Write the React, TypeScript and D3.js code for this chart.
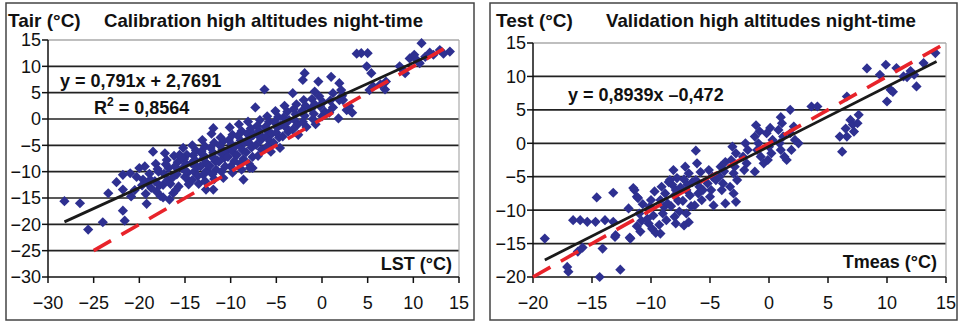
import * as d3 from "d3";

// tick values
const calibTicksX = [-30, -25, -20, -15, -10, -5, 0, 5, 10, 15];
const calibTicksY = [-30, -25, -20, -15, -10, -5, 0, 5, 10, 15];
const validTicksX = [-20, -15, -10, -5, 0, 5, 10, 15];
const validTicksY = [-20, -15, -10, -5, 0, 5, 10, 15];

// calibration: [LST, Tair]
const calibPoints: [number, number][] = [
  [-28.2, -15.6], [-26.5, -16], [-25.6, -21], [-24, -19.6], [-23.4, -14.1], [-22.5, -12], [-21.8, -10.6],
  [-21.8, -13.4], [-21.8, -17.4], [-21.6, -19.3], [-21, -10.3], [-20.9, -14.7], [-19.2, -16.1], [-18.5, -6.2],
  [-17.2, -6.5], [-18.1, -13.8], [-17.4, -12.5], [-20, -9.3], [-19.6, -11.5], [-16.7, -15.3], [-16.3, -14.1],
  [-14.5, -11.9], [-12.7, -13.4], [-11.9, -13.4], [-11.9, -1.75], [-8.6, -11.5], [-7.6, -9.3], [-7.3, 2.2],
  [-6.3, 5.6], [-3.2, 4.9], [-1.9, 8.7], [-2.1, 7.4], [-0.4, 7.1], [1.0, 8.0], [1.9, 6.8], [1.8, 0.1], [2.7, 1.7],
  [4.3, 12.5], [5.0, 12.5], [4.9, 10], [5.4, 8.7], [5.2, 5.5], [7.0, 7.1], [8.5, 10], [9.6, 11.5], [10.1, 12.2],
  [10.9, 14.4], [10.7, 10.6], [12.2, 12.2], [14, 12.8], [12.9, 13.1], [9.1, 8.7], [-0.8, 5.2], [-0.3, 4.3],
  [1.2, 4.9], [2.3, 3.6], [5.6, 6.2], [6.4, 6.6], [6.9, 5.6], [3.0, 2.4], [2.2, 4.4], [3.3, 1.2], [10.4, 11.2],
  [11.3, 11.8], [13.3, 12.4], [11.8, 12.6], [8.9, 9.2], [3.8, 12.4],
  [-20.3, -11], [-19.7, -12.6], [-20.5, -13.5], [-19.4, -9.0],
  [-18.9, -10.4], [-19.1, -12.2], [-18.7, -13.1], [-18.8, -11.5], [-19.3, -14.2],
  [-18.2, -8.5], [-17.9, -10], [-18.3, -11.8], [-17.8, -12.6], [-18.0, -9.5], [-17.7, -14.6],
  [-17.0, -7.8], [-16.8, -9.3], [-17.3, -10.4], [-16.9, -11.6], [-17.1, -8.6], [-16.6, -12.3], [-17.4, -14.9],
  [-16.2, -7.0], [-15.8, -8.2], [-16.1, -9.0], [-15.9, -10.5], [-16.4, -11.2], [-15.7, -12.8], [-16.0, -13.5], [-15.6, -6.8],
  [-15.2, -5.5], [-14.8, -6.8], [-15.1, -7.6], [-14.9, -8.5], [-15.3, -9.4], [-14.7, -10.2], [-15.0, -11.0],
  [-14.6, -12.4], [-15.4, -7.2], [-14.9, -9.9],
  [-14.2, -5.0], [-13.8, -6.0], [-14.1, -6.9], [-13.9, -7.8], [-14.3, -8.4], [-13.7, -9.2], [-14.0, -10.0],
  [-13.6, -10.8], [-14.2, -11.6], [-13.8, -8.9], [-13.5, -12.3],
  [-13.1, -4.0], [-12.8, -5.2], [-13.2, -6.1], [-12.9, -7.0], [-13.0, -7.5], [-12.7, -8.3], [-13.3, -9.0],
  [-12.6, -9.8], [-13.0, -10.6], [-12.8, -11.8], [-13.2, -6.5], [-12.5, -8.7],
  [-12.1, -2.8], [-11.8, -4.5], [-12.2, -5.5], [-11.9, -6.4], [-12.0, -7.2], [-11.7, -8.0], [-12.3, -8.9],
  [-11.6, -9.6], [-12.0, -10.5], [-11.8, -11.4], [-11.5, -7.8],
  [-11.1, -3.5], [-10.8, -4.2], [-11.2, -5.0], [-10.9, -5.8], [-11.0, -6.6], [-10.7, -7.4], [-11.3, -8.1],
  [-10.6, -9.0], [-11.0, -10.0], [-10.8, -11.2], [-10.5, -6.2],
  [-10.1, -1.6], [-9.8, -3.0], [-10.2, -4.0], [-9.9, -4.8], [-10.0, -5.6], [-9.7, -6.4], [-10.3, -7.2],
  [-9.6, -8.0], [-10.0, -9.0], [-9.8, -10.2], [-9.5, -5.2],
  [-9.1, -1.0], [-8.8, -2.3], [-9.2, -3.2], [-8.9, -4.1], [-9.0, -5.0], [-8.7, -5.9], [-9.3, -6.8],
  [-8.6, -7.6], [-9.0, -8.5], [-8.8, -9.6], [-8.5, -4.5],
  [-8.1, -0.5], [-7.8, -1.8], [-8.2, -2.8], [-7.9, -3.6], [-8.0, -4.5], [-7.7, -5.4], [-8.3, -6.3],
  [-7.6, -7.2], [-8.0, -8.5], [-7.9, -9.3], [-7.5, -3.0],
  [-6.8, -0.2], [-7.1, -1.3], [-6.9, -2.2], [-7.0, -3.1], [-6.7, -4.0], [-7.2, -4.9], [-6.6, -5.8], [-7.0, -7.0], [-6.5, -3.5],
  [-6.0, 0.5], [-5.8, -0.5], [-6.2, -1.5], [-5.9, -2.4], [-6.1, -3.3], [-5.7, -4.2], [-6.0, -5.2], [-5.6, -6.2], [-5.5, -2.8],
  [-5.1, 1.5], [-4.8, 0.4], [-5.2, -0.6], [-4.9, -1.6], [-5.0, -2.6], [-4.7, -3.5], [-5.3, -4.5], [-4.6, -5.5], [-4.5, -1.1],
  [-4.1, 2.5], [-3.8, 1.4], [-4.2, 0.3], [-3.9, -0.6], [-4.0, -1.5], [-3.7, -2.4], [-4.3, -3.3], [-3.6, -0.2],
  [-2.8, 2.8], [-3.1, 1.9], [-2.9, 0.9], [-3.0, -0.2], [-2.7, -1.1], [-3.2, -2.0], [-2.6, -3.0],
  [-2.0, 3.6], [-1.8, 2.5], [-2.2, 1.5], [-1.9, 0.6], [-2.1, -0.5], [-1.7, -1.5],
  [-1.1, 3.8], [-0.8, 2.8], [-1.2, 1.9], [-0.9, 1.0], [-1.0, 0.0], [-0.7, -1.0],
  [0.1, 3.2], [-0.2, 2.4], [0.3, 1.4], [0.0, 0.5],
  [0.9, 3.5], [1.2, 2.2], [0.8, 1.2],
  [2.1, 5.5], [1.9, 3.6],
];

// validation: [Tmeas, Test]
const validPoints: [number, number][] = [
  [-19, -14.25], [-17.1, -18.5], [-17, -19.2], [-16.6, -11.5], [-16, -11.5], [-15.4, -11.75], [-14.6, -8.1],
  [-14.7, -11.75], [-14.35, -20], [-14.1, -15.75], [-13.2, -7.4], [-13.2, -11.75], [-13, -13.75], [-12.6, -18.9],
  [-11.75, -14.25], [-11.9, -9.75], [-11.4, -7], [-11.2, -8], [-9.2, -13.5], [-6.2, -1.1], [-3.7, -9], [-2.8, -8.75],
  [-1.2, -4.25], [-0.45, -3], [1.0, 3.9], [1.8, 5], [2.5, 0], [1.5, -2.5], [3.6, 5.5], [4.1, 5.5], [6, 1],
  [6.2, -1.25], [6.6, 1], [7.2, 1.75], [6.6, 7], [6.9, 3.5], [7.6, 4.25], [8.3, 11.2], [9.4, 10.25], [9.9, 11.75],
  [10, 6.25], [10.3, 8], [10.8, 11.25], [11.4, 10], [12.5, 8.5], [12.3, 10.25], [13.1, 12], [14.1, 13.5],
  [-16.2, -16.2], [-15.8, -15.6], [-11.5, -6.7], [-11.1, -8.2], [-11.8, -14.1], [-13.05, -14], [-13.9, -11.5],
  [7.1, 2.8], [6.5, 2.2], [7.5, 3.0], [11.7, 9.9], [12.0, 10.8], [10.5, 7.7],
  [-11, -10.5], [-10.8, -11.6], [-11.2, -12.4], [-10.7, -9.1], [-10.9, -13.2],
  [-10.1, -9.5], [-9.8, -10.8], [-10.2, -12.0], [-9.9, -12.8], [-10.0, -8.5], [-9.7, -7.2], [-10.3, -11.3], [-9.6, -13.4],
  [-9.1, -6.5], [-8.8, -7.5], [-9.2, -8.5], [-8.9, -9.5], [-9.0, -10.5], [-8.7, -11.5], [-9.3, -12.2], [-8.6, -9.0], [-8.5, -5.8],
  [-8.1, -4.0], [-7.8, -5.2], [-8.2, -6.2], [-7.9, -7.0], [-8.0, -7.8], [-7.7, -8.6], [-8.3, -9.4], [-7.6, -10.2],
  [-8.0, -11.0], [-7.9, -12.0], [-7.5, -6.6], [-8.4, -5.5],
  [-7.1, -3.5], [-6.8, -4.5], [-7.2, -5.4], [-6.9, -6.2], [-7.0, -7.0], [-6.7, -7.8], [-7.3, -8.6], [-6.6, -9.4],
  [-7.0, -10.5], [-6.8, -11.8], [-7.2, -12.3], [-6.5, -5.8],
  [-6.1, -3.0], [-5.8, -4.3], [-6.2, -5.5], [-5.9, -6.5], [-6.0, -7.5], [-5.7, -8.5], [-6.3, -9.3], [-5.6, -7.0],
  [-5.1, -4.0], [-4.8, -5.0], [-5.2, -6.0], [-4.9, -7.0], [-5.0, -8.0], [-4.7, -9.3], [-4.5, -5.5],
  [-4.1, -3.5], [-3.8, -4.2], [-4.2, -5.0], [-3.9, -6.0], [-4.0, -7.0], [-3.7, -2.8],
  [-3.1, -0.5], [-2.8, -1.5], [-3.2, -2.5], [-2.9, -3.5], [-3.0, -4.5], [-2.7, -5.5], [-3.3, -6.5], [-3.0, -7.5],
  [-2.0, 0.0], [-1.8, -1.0], [-2.2, -2.0], [-1.9, -3.0], [-2.1, -4.0],
  [-1.1, 2.7], [-0.8, 1.8], [-1.2, 1.0], [-0.9, 0.0], [-1.0, -1.0], [-0.7, -2.0],
  [0.1, 2.3], [-0.2, 1.5], [0.3, 0.5], [0.0, -0.5], [0.2, -1.5], [-0.1, -2.5],
  [1.1, 3.0], [0.8, 2.0], [1.2, 1.0], [0.9, 0.0], [1.0, -1.0], [1.3, -2.0],
  [2.1, 2.5], [1.8, 1.5], [2.2, 0.5], [1.9, -1.0],
];

// trend line [slope, intercept], drawn over [from, to]; 1:1 line over [from, to]
const calibFit = [0.791, 2.7691];
const calibFitRange = [-28.2, 11.5];
const calibOneToOne = [-25, 13.7];
const validFit = [0.8939, -0.472];
const validFitRange = [-19, 14.2];
const validOneToOne = [-20, 15];

const FONT = "'Liberation Sans', Arial, Helvetica, sans-serif";
const BLUE = "#2E3091";

function Panel(props: any) {
  const { fx0, fx1, left, right, top, bottom, xTicks, yTicks, points, fit, fitRange, oneToOne, children } = props;
  const x = d3.scaleLinear().domain(d3.extent(xTicks) as [number, number]).range([left, right]);
  const y = d3.scaleLinear().domain(d3.extent(yTicks) as [number, number]).range([bottom, top]);
  const fmt = d3.format("d");
  const line = d3.line<number>().x((v) => x(v)).y((v) => y(v));
  const fitLine = d3.line<number>().x((v) => x(v)).y((v) => y(fit[0] * v + fit[1]));
  const diamond = d3.symbol().type(d3.symbolSquare).size(52)();
  const yMin = d3.min(yTicks) as number;
  const yMax = d3.max(yTicks) as number;

  return (
    <g>
      <rect x={fx0} y={3} width={fx1 - fx0} height={317} fill="white" stroke="#444" strokeWidth={1.5} />
      {yTicks.filter((t: number) => t !== yMin).map((t: number) => (
        <line key={t} x1={left} x2={right} y1={y(t)} y2={y(t)} stroke={t === yMax ? "#aaa" : "#222"} strokeWidth={1.7} />
      ))}
      <line x1={right} x2={right} y1={top} y2={bottom} stroke="#aaa" strokeWidth={1.2} />
      <line x1={left} x2={left} y1={top} y2={bottom} stroke="#111" strokeWidth={1.5} />
      <line x1={left} x2={right} y1={bottom} y2={bottom} stroke="#111" strokeWidth={1.5} />
      {yTicks.map((t: number) => (
        <g key={t}>
          <line x1={left - 6} x2={left} y1={y(t)} y2={y(t)} stroke="#111" strokeWidth={1.5} />
          <text x={left - 7} y={y(t)} dy="0.36em" textAnchor="end" fontSize={18} fontFamily={FONT} fill="#111">
            {fmt(t)}
          </text>
        </g>
      ))}
      {xTicks.map((t: number) => (
        <g key={t}>
          <line x1={x(t)} x2={x(t)} y1={bottom} y2={bottom + 6} stroke="#111" strokeWidth={1.5} />
          <text x={x(t)} y={309} textAnchor="middle" fontSize={18} fontFamily={FONT} fill="#111">
            {fmt(t)}
          </text>
        </g>
      ))}
      {points.map((p: [number, number], i: number) => (
        <path key={i} d={diamond as string} transform={`translate(${x(p[0])},${y(p[1])}) rotate(45)`} fill={BLUE} />
      ))}
      <path d={line(oneToOne) as string} stroke="#E8232A" strokeWidth={3.6} strokeDasharray="20,12" fill="none" />
      <path d={fitLine(fitRange) as string} stroke="#1a1a1a" strokeWidth={2.8} fill="none" />
      {children}
    </g>
  );
}

export default function App() {
  const bold = { fontFamily: FONT, fontWeight: 700, fontSize: 18, fill: "#111" } as const;
  return (
    <svg width={959} height={322} style={{ position: "absolute", left: 0, top: 0, background: "white" }}>
      <Panel fx0={6} fx1={474} left={48} right={459} top={40} bottom={277}
        xTicks={calibTicksX} yTicks={calibTicksY} points={calibPoints}
        fit={calibFit} fitRange={calibFitRange} oneToOne={calibOneToOne}>
        <text x={8} y={27} {...bold} fontSize={19}>Tair (°C)</text>
        <text x={104} y={27} {...bold} fontSize={19} textLength={319} lengthAdjust="spacingAndGlyphs">Calibration high altitudes night-time</text>
        <text x={60} y={87} {...bold}>y = 0,791x + 2,7691</text>
        <text x={94} y={114} {...bold}>R<tspan dy={-8} fontSize={12}>2</tspan><tspan dy={8}> = 0,8564</tspan></text>
        <text x={452} y={270} textAnchor="end" {...bold}>LST (°C)</text>
      </Panel>
      <Panel fx0={490} fx1={957} left={533} right={946} top={43} bottom={277}
        xTicks={validTicksX} yTicks={validTicksY} points={validPoints}
        fit={validFit} fitRange={validFitRange} oneToOne={validOneToOne}>
        <text x={496} y={27} {...bold} fontSize={19}>Test (°C)</text>
        <text x={606} y={27} {...bold} fontSize={19} textLength={310} lengthAdjust="spacingAndGlyphs">Validation high altitudes night-time</text>
        <text x={568} y={101} {...bold}>y = 0,8939x –0,472</text>
        <text x={937} y={268} textAnchor="end" {...bold}>Tmeas (°C)</text>
      </Panel>
    </svg>
  );
}
